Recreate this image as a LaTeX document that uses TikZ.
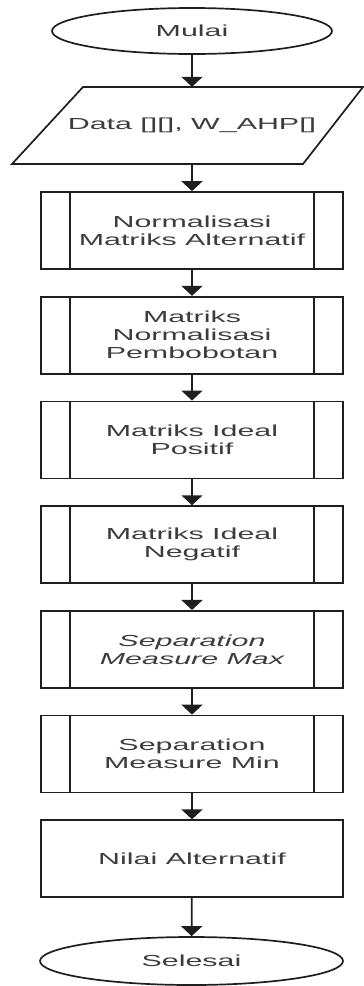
\documentclass[tikz,border=0pt]{standalone}
\usepackage{fontspec}
\setmainfont{Liberation Sans}[FakeStretch=1.9]
\usetikzlibrary{shapes.geometric,arrows.meta}
\definecolor{txt}{RGB}{60,60,60}
\definecolor{ln}{RGB}{30,30,30}
\begin{document}
\begin{tikzpicture}[x=1pt,y=-1pt,
  every node/.style={font=\fontsize{16}{18}\selectfont, text=txt, align=center, inner sep=0pt},
  term/.style={draw=ln, line width=1.7pt, ellipse, minimum width=280pt, minimum height=46pt},
  proc/.style={draw=ln, line width=1.7pt, rectangle, minimum width=302pt, minimum height=77pt},
  flow/.style={draw=ln, line width=1.7pt, -{Triangle[length=10pt,width=21pt]}}]
\useasboundingbox (0,0) rectangle (364,986);

\node[term] (start) at (192,31) {Mulai};

% input data (parallelogram drawn around the text node)
\node[minimum height=77pt] (data) at (192,125.5) {Data [][], W\_AHP[]};
\draw[ln, line width=1.7pt] (83,87) -- (363,87) -- (303,164) -- (12,164) -- cycle;

\node[proc] (p1) at (192,230.5) {Normalisasi\\Matriks Alternatif};
\node[proc] (p2) at (192,335.2) {Matriks\\Normalisasi\\Pembobotan};
\node[proc] (p3) at (192,439.9) {Matriks Ideal\\Positif};
\node[proc] (p4) at (192,544.6) {Matriks Ideal\\Negatif};
\node[proc] (p5) at (192,649.3) {\itshape Separation\\\itshape Measure Max};
\node[proc] (p6) at (192,754) {Separation\\Measure Min};
\node[proc] (p7) at (192,858.7) {Nilai Alternatif};
\node[term, minimum width=303pt, minimum height=48pt] (stop) at (191.5,961) {Selesai};

% side bars of the predefined-process boxes
\foreach \n in {p1,p2,p3,p4,p5,p6}{
  \draw[ln, line width=1.7pt] ([xshift=30pt]\n.north west) -- ([xshift=30pt]\n.south west);
  \draw[ln, line width=1.7pt] ([xshift=-30pt]\n.north east) -- ([xshift=-30pt]\n.south east);
}

\draw[flow] (start) -- (data);
\draw[flow] (data) -- (p1);
\draw[flow] (p1) -- (p2);
\draw[flow] (p2) -- (p3);
\draw[flow] (p3) -- (p4);
\draw[flow] (p4) -- (p5);
\draw[flow] (p5) -- (p6);
\draw[flow] (p6) -- (p7);
\draw[flow] (p7) -- (stop);
\end{tikzpicture}
\end{document}
